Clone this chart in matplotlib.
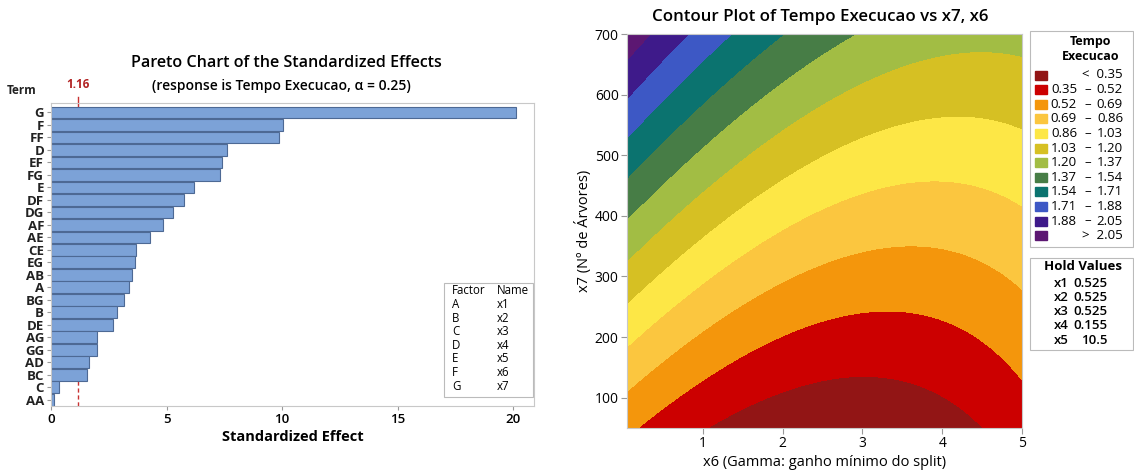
"""Pareto chart of standardized effects + contour plot of Tempo Execucao vs x7, x6."""

import matplotlib
matplotlib.use("Agg")
import matplotlib.pyplot as plt
import matplotlib.transforms as mtransforms
import numpy as np

plt.rcParams["font.family"] = ["Open Sans", "DejaVu Sans"]

W, H = 1134, 470

# --- Pareto data (top to bottom) ---
TERMS = ["G", "F", "FF", "D", "EF", "FG", "E", "DF", "DG", "AF", "AE", "CE",
         "EG", "AB", "A", "BG", "B", "DE", "AG", "GG", "AD", "BC", "C", "AA"]
EFFECTS = [20.1, 10.03, 9.88, 7.62, 7.40, 7.31, 6.19, 5.74, 5.29, 4.85, 4.28, 3.68,
           3.63, 3.49, 3.38, 3.17, 2.86, 2.67, 1.99, 1.99, 1.63, 1.57, 0.33, 0.14]
CRITICAL = 1.16
FACTORS = ["A", "B", "C", "D", "E", "F", "G"]
FACTOR_NAMES = ["x1", "x2", "x3", "x4", "x5", "x6", "x7"]

# --- Contour boundary points: (level, x6, x7) ---
BOUND_LEVEL = [0.35, 0.35, 0.35,
               0.52, 0.52, 0.52, 0.52,
               0.69, 0.69, 0.69, 0.69,
               0.86, 0.86, 0.86, 0.86, 0.86,
               1.03, 1.03, 1.03, 1.03, 1.03,
               1.20, 1.20, 1.20, 1.20,
               1.37, 1.37, 1.37,
               1.54, 1.54,
               1.71, 1.71,
               1.88, 1.88,
               2.05, 2.05]
BOUND_X6 = [1.06, 4.49, 3.09,
            0.195, 5.0, 3.3, 2.55,
            0.058, 5.0, 3.55, 2.55,
            0.058, 5.0, 3.9, 2.13, 2.47,
            0.058, 0.59, 5.0, 4.2, 2.47,
            0.058, 2.47, 5.0, 4.47,
            0.058, 2.59, 2.88,
            0.058, 2.01,
            0.058, 1.34,
            0.058, 0.82,
            0.058, 0.36]
BOUND_X7 = [52, 52, 136,
            52, 131, 240, 227,
            109, 276, 347, 323,
            180, 416, 457, 386, 410,
            251, 369, 545, 565, 495,
            321, 580, 668, 676,
            391, 655, 700,
            457, 700,
            520, 700,
            586, 700,
            673, 700]

LEVELS = [0.35, 0.52, 0.69, 0.86, 1.03, 1.20, 1.37, 1.54, 1.71, 1.88, 2.05]
BAND_COLORS = ["#921515", "#CC0000", "#F4960C", "#FBC63F", "#FDE746", "#D6C023",
               "#A2BD44", "#477D46", "#0B736F", "#3D58C5", "#3E1A8A", "#5C1772"]
HOLD_NAMES = ["x1", "x2", "x3", "x4", "x5"]
HOLD_VALUES = ["0.525", "0.525", "0.525", "0.155", "10.5"]


def fx(px):
    return px / W


def fy(py):
    return 1 - py / H


def design(x6, x7):
    y = np.asarray(x7) / 100.0
    x = np.asarray(x6)
    return np.stack([np.ones_like(x), x, y, x * x, y * y, x * y], axis=-1)


def fit_surface():
    A = design(np.array(BOUND_X6, float), np.array(BOUND_X7, float))
    coef, *_ = np.linalg.lstsq(A, np.array(BOUND_LEVEL), rcond=None)
    return coef


fig = plt.figure(figsize=(W / 100, H / 100), dpi=100)

# ---------------- Pareto chart ----------------
ax = fig.add_axes([fx(51), fy(406), fx(534) - fx(51), fy(103) - fy(406)])
pos = np.arange(len(TERMS))[::-1]
ax.axvline(CRITICAL, color="#C83232", lw=1, ls=(0, (3, 2)), zorder=0)
ax.barh(pos, EFFECTS, height=0.93, color="#7CA2D7", edgecolor="#4D6994",
        linewidth=0.8, zorder=2)
ax.set_xlim(0, 20.9)
ax.set_ylim(-0.5, 23.75)
ax.set_yticks(pos)
ax.set_yticklabels(TERMS, fontweight="bold", fontsize=9.5, color="#222222")
ax.set_xticks([0, 5, 10, 15, 20])
ax.tick_params(axis="x", labelsize=9.5, length=3, color="#999999", pad=2)
ax.tick_params(axis="y", length=3, color="#999999", pad=2)
for lbl in ax.get_xticklabels():
    lbl.set_fontweight("semibold")
for s in ax.spines.values():
    s.set_color("#C8C8C8")
ax.set_xlabel("Standardized Effect", fontsize=10.5, fontweight="bold", labelpad=3)

trans = mtransforms.blended_transform_factory(ax.transData, ax.transAxes)
ax.plot([CRITICAL, CRITICAL], [1.0, 1.02], color="#C83232", lw=1,
        transform=trans, clip_on=False)
ax.text(CRITICAL, 1.04, f"{CRITICAL:.2f}", color="#B22222", fontsize=8.5,
        fontweight="bold", ha="center", va="bottom", transform=trans)

fig.text(fx(22), fy(90), "Term", fontsize=8.5, fontweight="bold", ha="center",
         va="center", color="#222222")
fig.text(fx(286), fy(63), "Pareto Chart of the Standardized Effects",
         fontsize=11.6, fontweight="semibold", ha="center", va="center")
fig.text(fx(281), fy(86), "(response is Tempo Execucao, \u03b1 = 0.25)",
         fontsize=10, fontweight="semibold", ha="center", va="center")

# factor / name table
ax.add_patch(plt.Rectangle((fx(444), fy(397)), fx(533) - fx(444), fy(283) - fy(397),
                           transform=fig.transFigure, fill=False,
                           edgecolor="#BBBBBB", lw=0.8, zorder=5))
fig.text(fx(452), fy(291), "Factor", fontsize=8.3, va="center")
fig.text(fx(497), fy(291), "Name", fontsize=8.3, va="center")
for i, (f, n) in enumerate(zip(FACTORS, FACTOR_NAMES)):
    yy = 304.6 + i * 13.6
    fig.text(fx(452), fy(yy), f, fontsize=8.3, va="center")
    fig.text(fx(497), fy(yy), n, fontsize=8.3, va="center")

# ---------------- Contour plot ----------------
coef = fit_surface()
gx = np.linspace(0.05, 5, 300)
gy = np.linspace(50, 700, 300)
GX, GY = np.meshgrid(gx, gy)
Z = design(GX, GY) @ coef

cx = fig.add_axes([fx(627), fy(428), fx(1022) - fx(627), fy(34) - fy(428)])
bounds = [min(Z.min(), LEVELS[0]) - 1] + LEVELS + [max(Z.max(), LEVELS[-1]) + 1]
cx.contourf(GX, GY, Z, levels=bounds, colors=BAND_COLORS)
cx.set_xlim(0.05, 5)
cx.set_ylim(50, 700)
cx.set_xticks([1, 2, 3, 4, 5])
cx.set_yticks([100, 200, 300, 400, 500, 600, 700])
cx.tick_params(labelsize=10, length=4, color="#999999", pad=2)
for s in cx.spines.values():
    s.set_color("#C8C8C8")
cx.set_xlabel("x6 (Gamma: ganho m\u00ednimo do split)", fontsize=10.5, labelpad=3)
cx.set_ylabel("x7 (N\u00ba de \u00c1rvores)", fontsize=10.5, labelpad=2)
fig.text(fx(820), fy(17), "Contour Plot of Tempo Execucao vs x7, x6",
         fontsize=12.2, fontweight="semibold", ha="center", va="center")

# level legend
cx.add_patch(plt.Rectangle((fx(1030), fy(247)), fx(1133) - fx(1030), fy(31) - fy(247),
                           transform=fig.transFigure, fill=False,
                           edgecolor="#BBBBBB", lw=0.8, clip_on=False))
fig.text(fx(1091), fy(42), "Tempo", fontsize=9, fontweight="bold", ha="center", va="center")
fig.text(fx(1091), fy(57), "Execucao", fontsize=9, fontweight="bold", ha="center", va="center")
for i, col in enumerate(BAND_COLORS):
    yy = 75 + i * 14.6
    fig.patches.append(plt.Rectangle((fx(1035), fy(yy + 4.5)), fx(12), fy(0) - fy(9),
                                     transform=fig.transFigure, color=col))
    if i == 0:
        fig.text(fx(1123), fy(yy), f"<  {LEVELS[0]:.2f}", fontsize=9.5, ha="right", va="center")
    elif i == len(BAND_COLORS) - 1:
        fig.text(fx(1123), fy(yy), f">  {LEVELS[-1]:.2f}", fontsize=9.5, ha="right", va="center")
    else:
        fig.text(fx(1077), fy(yy), f"{LEVELS[i - 1]:.2f}", fontsize=9.5, ha="right", va="center")
        fig.text(fx(1087.5), fy(yy), "\u2013", fontsize=9.5, ha="center", va="center")
        fig.text(fx(1123), fy(yy), f"{LEVELS[i]:.2f}", fontsize=9.5, ha="right", va="center")

# hold values
cx.add_patch(plt.Rectangle((fx(1030), fy(350)), fx(1133) - fx(1030), fy(258) - fy(350),
                           transform=fig.transFigure, fill=False,
                           edgecolor="#BBBBBB", lw=0.8, clip_on=False))
fig.text(fx(1083), fy(266), "Hold Values", fontsize=9.5, fontweight="bold", ha="center", va="center")
for i, (n, v) in enumerate(zip(HOLD_NAMES, HOLD_VALUES)):
    yy = 283.3 + i * 14.2
    fig.text(fx(1054), fy(yy), n, fontsize=9.5, fontweight="semibold", va="center")
    fig.text(fx(1108), fy(yy), v, fontsize=9.5, fontweight="semibold", ha="right", va="center")

fig.savefig("out.png", dpi=100)
